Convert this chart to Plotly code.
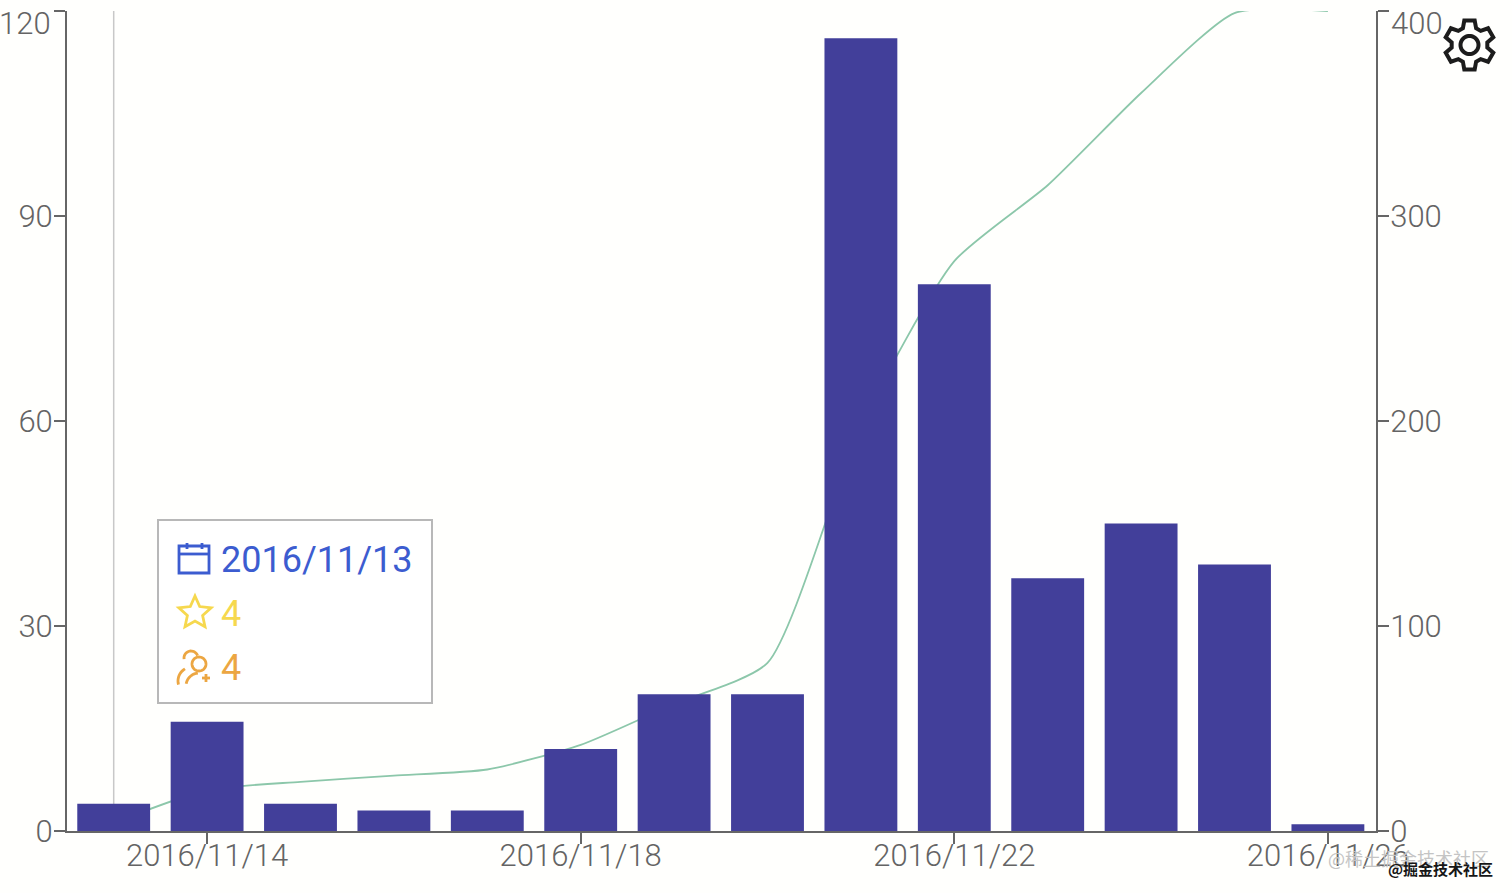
import math
import plotly.graph_objects as go

W, H = 1512, 893
L, R, T, B = 67, 1376, 11, 831

dates = ["2016/11/%d" % d for d in range(13, 27)]
stars_daily = [4, 16, 4, 3, 3, 12, 20, 20, 116, 80, 37, 45, 39, 1]
stars_total = [4, 20, 24, 27, 30, 42, 62, 82, 198, 278, 315, 360, 399, 400]
x_ticks = ["2016/11/14", "2016/11/18", "2016/11/22", "2016/11/26"]
left_ticks = [0, 30, 60, 90, 120]
right_ticks = [0, 100, 200, 300, 400]

AXIS = "#666666"
TICKC = "#646464"
FONT = "Roboto"
BG = "#fffffd"
BLUE = "#3c5cd0"
YEL = "#f6d84e"
ORG = "#eca642"


def px(x):
    return x / W


def py(y):
    return 1 - y / H


def path(cmds):
    out = []
    for c in cmds:
        out.append("Z" if c == "Z" else "%s %.5f %.5f" % (c[0], px(c[1]), py(c[2])))
    return " ".join(out)


def circle_path(cx, cy, r, a0=0, a1=360, n=48, close=True):
    cmds = []
    for i in range(n + 1):
        a = math.radians(a0 + (a1 - a0) * i / n)
        cmds.append(("M" if i == 0 else "L", cx + r * math.cos(a), cy + r * math.sin(a)))
    if close:
        cmds.append("Z")
    return path(cmds)


def gear_path(cx, cy, r_out, r_in, teeth=6):
    cmds = []
    step = 360 / teeth
    for i in range(teeth):
        a = -90 + i * step
        pts = [(a - step * 0.36, r_in), (a - step * 0.20, r_out), (a + step * 0.20, r_out), (a + step * 0.36, r_in)]
        for ang, r in pts:
            t = math.radians(ang)
            cmds.append(("M" if not cmds else "L", cx + r * math.cos(t), cy + r * math.sin(t)))
    cmds.append("Z")
    return path(cmds)


def star_path(cx, cy, r_out, r_in):
    cmds = []
    for i in range(10):
        r = r_out if i % 2 == 0 else r_in
        t = math.radians(-90 + 36 * i)
        cmds.append(("M" if i == 0 else "L", cx + r * math.cos(t), cy + r * math.sin(t)))
    cmds.append("Z")
    return path(cmds)


def icon(p, color, width=2.8):
    return dict(type="path", xref="paper", yref="paper", path=p, line=dict(color=color, width=width), layer="above")


shapes = [
    dict(type="line", xref="x", yref="y", x0=dates[0], x1=dates[0], y0=0, y1=right_ticks[-1],
         line=dict(color="#c8c8c8", width=1.5), layer="below"),
    dict(type="rect", xref="paper", yref="paper", x0=px(158), x1=px(432), y0=py(703), y1=py(520),
         line=dict(color="#b8b8b8", width=2), fillcolor="#ffffff", layer="above"),
    icon(path([("M", 179, 546), ("L", 209, 546), ("L", 209, 573), ("L", 179, 573), "Z"]), BLUE),
    icon(path([("M", 179, 554), ("L", 209, 554)]), BLUE),
    icon(path([("M", 187, 543), ("L", 187, 549)]), BLUE),
    icon(path([("M", 202, 543), ("L", 202, 549)]), BLUE),
    icon(star_path(195, 613, 17, 8), YEL),
    icon(circle_path(199, 664, 7), ORG),
    icon(circle_path(199, 686, 13, 190, 265, 12, False), ORG),
    icon(circle_path(191, 658, 7, 170, 340, 16, False), ORG),
    icon(circle_path(192, 681, 14, 165, 240, 10, False), ORG),
    icon(path([("M", 202, 678), ("L", 210, 678)]), ORG),
    icon(path([("M", 206, 674), ("L", 206, 682)]), ORG),
    icon(gear_path(1469.5, 45, 25, 18), "#1c1c1c", 4),
    icon(circle_path(1469.5, 45, 9), "#1c1c1c", 4),
]


def ann(text, x, y, color, size, anchor="left", family=FONT, weight=300):
    return dict(text=text, xref="paper", yref="paper", x=px(x), y=py(y), xanchor=anchor, yanchor="middle",
                showarrow=False, font=dict(family=family, size=size, color=color, weight=weight), borderpad=0)


annotations = [
    ann(dates[0], 220, 560, BLUE, 36, weight=400),
    ann(str(stars_daily[0]), 220, 614, YEL, 36, weight=400),
    ann(str(stars_total[0]), 220, 668, ORG, 36, weight=400),
    ann(str(left_ticks[-1]), 52, 23, TICKC, 31, "right"),
    ann(str(right_ticks[-1]), 1390, 23, TICKC, 31, "left"),
    ann("@稀土掘金技术社区", 1327, 858, "#c4c4c4", 18, "left", "Noto Sans CJK SC", 400),
    ann("@掘金技术社区", 1387, 868, "#161616", 15, "left", "Noto Sans CJK SC", 700),
]

fig = go.Figure()
fig.add_trace(go.Scatter(x=dates, y=stars_total, mode="lines", yaxis="y", xaxis="x",
                         line=dict(color="#8cc7aa", width=1.8, shape="spline", smoothing=0.6),
                         cliponaxis=False, showlegend=False, hoverinfo="skip"))
fig.add_trace(go.Bar(x=dates, y=stars_daily, yaxis="y2", xaxis="x",
                     marker=dict(color="#423f9a", line=dict(width=0)), showlegend=False, hoverinfo="skip"))

axis_common = dict(showgrid=False, zeroline=False, showline=True, linecolor=AXIS, linewidth=2,
                   ticks="outside", ticklen=11, tickwidth=2, tickcolor=AXIS, automargin=False,
                   tickfont=dict(family=FONT, size=31, color=TICKC, weight=300))

fig.update_layout(
    width=W, height=H,
    margin=dict(l=0, r=0, t=0, b=0, pad=0, autoexpand=False),
    paper_bgcolor=BG, plot_bgcolor=BG,
    bargap=0.22,
    xaxis=dict(domain=[L / W, R / W], type="category", categoryorder="array", categoryarray=dates,
               range=[-0.5, 13.515], tickmode="array", tickvals=x_ticks, ticktext=x_ticks,
               ticklabelstandoff=-15, **axis_common),
    yaxis=dict(domain=[1 - B / H, 1 - T / H], side="right", range=[0, 400], tickmode="array",
               tickvals=right_ticks, ticktext=[str(v) for v in right_ticks[:-1]] + [""],
               ticklabelstandoff=-5, **axis_common),
    yaxis2=dict(side="left", overlaying="y", range=[0, 120], tickmode="array", tickvals=left_ticks,
                ticktext=[str(v) for v in left_ticks[:-1]] + [""], ticklabelstandoff=-5, **axis_common),
    shapes=shapes,
    annotations=annotations,
)

fig.write_html("out.html", post_script="document.body.style.margin='0';document.body.style.overflow='hidden';",
               config={"displayModeBar": False})
